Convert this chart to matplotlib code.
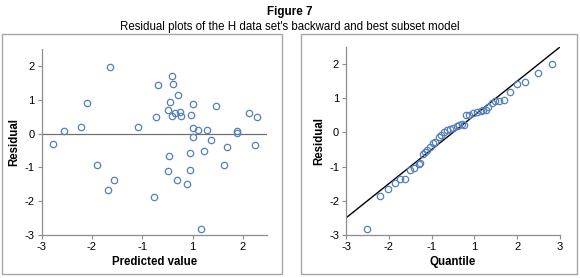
import matplotlib
matplotlib.use("Agg")
import matplotlib.pyplot as plt
from matplotlib.patches import Rectangle

plt.rcParams['font.family'] = ['Liberation Sans', 'DejaVu Sans']

# ---- Data ----
predicted = [-2.71, -2.445, -2.03, -1.873, -1.633, -1.30, -1.20, -1.343, -0.613, -0.215,
             -0.107, -0.149, 0.158, 0.134, 0.25, 0.266, 0.183, 0.15, 0.25, 0.308,
             0.382, 0.448, 0.457, 0.357, 0.706, 0.697, 0.689, 0.623, 0.772, 0.772,
             0.764, 0.896, 1.112, 1.211, 1.037, 0.963, 1.336, 1.618, 1.527, 1.85,
             1.85, 2.165, 2.347, 2.314]
residual = [-0.30, 0.09, 0.19, 0.90, -0.93, 1.96, -1.37, -1.68, 0.19, -1.87,
            1.43, 0.48, -0.66, -1.11, 1.71, 1.46, 0.92, 0.69, 0.51, 0.60,
            1.15, 0.63, 0.53, -1.37, 0.56, -0.58, -1.08, -1.49, 0.88, 0.17,
            -0.11, 0.11, 0.11, -0.18, -0.53, -2.83, 0.82, -0.40, -0.92, 0.07,
            0.02, 0.61, 0.49, -0.34]

quantile = [-2.42, -2.05, -1.81, -1.62, -1.48, -1.34, -1.21, -1.10, -0.94, -0.92,
            -0.84, -0.78, -0.72, -0.64, -0.55, -0.50, -0.40, -0.34, -0.24, -0.18,
            -0.09, 0.01, 0.10, 0.18, 0.24, 0.31, 0.36, 0.45, 0.55, 0.66,
            0.78, 0.85, 0.93, 0.99, 1.08, 1.19, 1.30, 1.44, 1.60, 1.79,
            2.03, 2.39, 2.77]
qq_residual = [-2.81, -1.86, -1.66, -1.47, -1.35, -1.35, -1.10, -1.05, -0.91, -0.88,
               -0.64, -0.56, -0.51, -0.42, -0.32, -0.27, -0.14, -0.08, 0.01, 0.07,
               0.11, 0.14, 0.19, 0.22, 0.24, 0.23, 0.52, 0.52, 0.58, 0.61,
               0.64, 0.65, 0.67, 0.75, 0.85, 0.91, 0.91, 0.94, 1.19, 1.43,
               1.48, 1.73, 1.99]
qq_line_x = [-3, 3]
qq_line_y = [-2.5, 2.5]

left_xticks = [-3, -1.75, -0.5, 0.75, 2.0]
left_xticklabels = ['-3', '-2', '-1', '1', '2']
right_xticks = [-3, -1.8, -0.6, 0.6, 1.8, 3.0]
right_xticklabels = ['-3', '-2', '-1', '1', '2', '3']
yticks = [-3, -2, -1, 0, 1, 2]
yticklabels = ['-3', '-2', '-1', '0', '1', '2']

title = "Figure 7"
subtitle = "Residual plots of the H data set's backward and best subset model"

W, H = 580, 278
fig = plt.figure(figsize=(W / 100, H / 100), dpi=100)

def fx(px):
    return px / W

def fy(py):
    return 1 - py / H

# panel boxes
for x0, x1 in [(2, 282), (301, 577)]:
    fig.patches.append(Rectangle((fx(x0), fy(274)), fx(x1) - fx(x0), fy(34) - fy(274),
                                 transform=fig.transFigure, fill=False,
                                 edgecolor='#a6a6a6', linewidth=1.0))

fig.text(0.5, fy(12), title, ha='center', va='center', fontsize=8.4, fontweight='bold')
fig.text(0.5, fy(27), subtitle, ha='center', va='center', fontsize=8.3)

marker_color = '#5580ba'

def style(ax):
    for s in ['top', 'right']:
        ax.spines[s].set_visible(False)
    for s in ['left', 'bottom']:
        ax.spines[s].set_color('#8c8c8c')
        ax.spines[s].set_linewidth(0.9)
    ax.tick_params(axis='both', direction='out', length=3, width=0.8,
                   color='#8c8c8c', labelsize=8, pad=2)
    ax.set_yticks(yticks)
    ax.set_yticklabels(yticklabels)
    ax.set_ylim(-3, 2.5)
    ax.set_facecolor('none')

# left panel
ax1 = fig.add_axes([fx(41.7), fy(235), fx(267) - fx(41.7), fy(49) - fy(235)])
ax1.axhline(0, color='#707070', linewidth=0.9, zorder=1)
ax1.plot(predicted, residual, linestyle='none', marker='o', markersize=4.6,
         markerfacecolor='none', markeredgecolor=marker_color, markeredgewidth=0.9, zorder=3)
ax1.set_xlim(-3, 2.6)
ax1.set_xticks(left_xticks)
ax1.set_xticklabels(left_xticklabels)
style(ax1)
ax1.set_xlabel('Predicted value', fontsize=8.3, fontweight='bold', labelpad=3)
ax1.set_ylabel('Residual', fontsize=8.3, fontweight='bold', labelpad=3)

# right panel
ax2 = fig.add_axes([fx(346), fy(235), fx(560) - fx(346), fy(47) - fy(235)])
ax2.plot(qq_line_x, qq_line_y, color='black', linewidth=1.0, zorder=2)
ax2.plot(quantile, qq_residual, linestyle='none', marker='o', markersize=4.6,
         markerfacecolor='none', markeredgecolor=marker_color, markeredgewidth=0.9, zorder=3)
ax2.set_xlim(-3, 3)
ax2.set_xticks(right_xticks)
ax2.set_xticklabels(right_xticklabels)
style(ax2)
ax2.set_xlabel('Quantile', fontsize=8.3, fontweight='bold', labelpad=3)
ax2.set_ylabel('Residual', fontsize=8.3, fontweight='bold', labelpad=3)

fig.savefig('out.png', dpi=100)
